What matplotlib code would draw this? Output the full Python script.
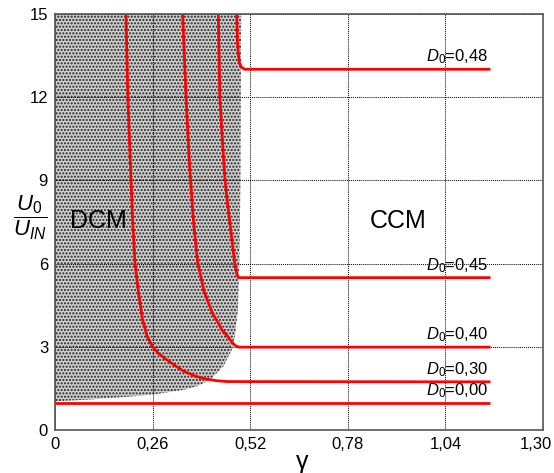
"""
Voltage gain U0/UIN versus gamma, DCM and CCM regions
"""
import matplotlib
matplotlib.use('Agg')
import matplotlib.pyplot as plt
from matplotlib.transforms import ScaledTranslation

plt.rcParams['font.family'] = ['Liberation Sans', 'DejaVu Sans']
plt.rcParams['mathtext.fontset'] = 'custom'
plt.rcParams['mathtext.rm'] = 'Liberation Sans'
plt.rcParams['mathtext.it'] = 'Liberation Sans:italic'
plt.rcParams['hatch.color'] = '#222222'
plt.rcParams['hatch.linewidth'] = 1.0

# curves (gamma, U0/UIN)
g_000 = [0.0, 1.16]
m_000 = [1.0, 1.0]

g_030 = [0.189, 0.194, 0.201, 0.207, 0.213, 0.222, 0.233, 0.245, 0.26, 0.275, 0.297,
         0.324, 0.342, 0.377, 0.40, 0.431, 0.46, 1.16]
m_030 = [15.0, 12.0, 9.5, 7.5, 6.05, 5.0, 4.0, 3.4, 3.02, 2.78, 2.55,
         2.3, 2.14, 1.94, 1.86, 1.79, 1.76, 1.75]

g_040 = [0.340, 0.349, 0.358, 0.369, 0.380, 0.397, 0.420, 0.435, 0.444, 0.460, 0.471,
         0.478, 0.484, 0.490, 1.16]
m_040 = [15.0, 12.0, 9.6, 7.5, 6.05, 5.0, 4.2, 3.87, 3.63, 3.38, 3.18,
         3.08, 3.03, 3.0, 3.0]

g_045 = [0.435, 0.439, 0.448, 0.453, 0.461, 0.470, 0.479, 0.485, 0.489, 1.16]
m_045 = [15.0, 12.0, 10.0, 9.0, 8.0, 7.0, 6.0, 5.6, 5.5, 5.5]

g_048 = [0.484, 0.486, 0.488, 0.491, 0.496, 0.505, 1.16]
m_048 = [15.0, 14.0, 13.6, 13.25, 13.08, 13.0, 13.0]

curves = [(g_000, m_000, '0,00'), (g_030, m_030, '0,30'), (g_040, m_040, '0,40'),
          (g_045, m_045, '0,45'), (g_048, m_048, '0,48')]

# DCM region boundary
dcm_g = [0.0, 0.10, 0.20, 0.26, 0.342, 0.38, 0.413, 0.448, 0.471, 0.479, 0.487, 0.491, 0.494, 0.496]
dcm_m = [1.05, 1.12, 1.22, 1.29, 1.46, 1.6, 1.82, 2.30, 2.9, 3.4, 4.3, 6.0, 9.0, 15.0]

x_ticks = [0, 0.26, 0.52, 0.78, 1.04, 1.30]
x_labels = ['0', '0,26', '0,52', '0,78', '1,04', '1,30']
y_ticks = [0, 3, 6, 9, 12, 15]

fig = plt.figure(figsize=(5.54, 4.73), dpi=100)
ax = fig.add_axes([0.0993, 0.0899, 0.8809, 0.8811])

# shaded DCM area
poly_x = dcm_g + [0.0]
poly_y = dcm_m + [15.0]
ax.fill(poly_x, poly_y, facecolor='#cdcdcd', edgecolor='#222222', hatch='.....',
        linewidth=0, zorder=1)

ax.set_xlim(0, 1.30)
ax.set_ylim(0, 15)
ax.set_xticks(x_ticks)
ax.set_xticklabels(x_labels)
ax.set_yticks(y_ticks)
ax.tick_params(length=0, labelsize=12, pad=5)
ax.grid(True, color='black', linestyle=(0, (1, 1)), linewidth=0.7, zorder=2)
ax.set_axisbelow(False)

# last x label pulled left so it stays inside the figure
last = ax.get_xticklabels()[-1]
last.set_transform(last.get_transform() + ScaledTranslation(-0.07, 0, fig.dpi_scale_trans))

for spine in ax.spines.values():
    spine.set_edgecolor('#555555')
    spine.set_linewidth(1.2)
    spine.set_zorder(5)

for g, m, lab in curves:
    ax.plot(g, m, color='#ff0000', linewidth=2.0, zorder=4, solid_capstyle='butt')
    ax.text(1.155, m[-1] + 0.27, r'$D_0$=' + lab, ha='right', va='baseline',
            fontsize=12, zorder=6)

ax.text(0.115, 7.55, 'DCM', ha='center', va='center', fontsize=18, zorder=6)
ax.text(0.915, 7.55, 'CCM', ha='center', va='center', fontsize=18, zorder=6)

fig.text(302 / 554, 1 - 462 / 473, 'γ', ha='center', va='center', fontsize=18)
fig.text(30 / 554, 1 - 218 / 473, r'$\dfrac{U_0}{U_{IN}}$', ha='center', va='center',
         fontsize=16)

plt.savefig('out.png', dpi=100)
plt.close()
